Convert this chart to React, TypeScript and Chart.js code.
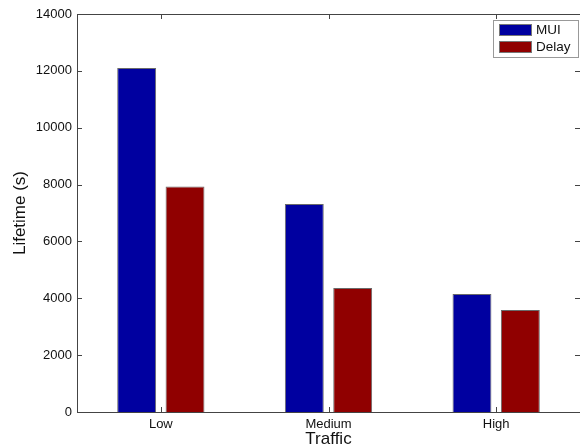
import React, { useEffect, useRef } from "react";
import { Chart, registerables } from "chart.js";

Chart.register(...registerables);

const categories = ["Low", "Medium", "High"];
const muiValues = [12100, 7320, 4150];
const delayValues = [7930, 4360, 3590];
const seriesNames = ["MUI", "Delay"];
const yTicks = [0, 2000, 4000, 6000, 8000, 10000, 12000, 14000];

const FONT = "'Liberation Sans', Arial, Helvetica, sans-serif";
const BLUE = "#0000a0";
const RED = "#900000";

const framePlugin = {
  id: "frame",
  afterDraw(chart: any) {
    const { ctx, chartArea } = chart;
    const { left, right, top, bottom } = chartArea;
    const xs = chart.scales.x;
    const ys = chart.scales.y;
    ctx.save();
    ctx.strokeStyle = "#444";
    ctx.lineWidth = 1;
    const L = Math.round(left) + 0.5;
    const T = Math.round(top) + 0.5;
    const B = Math.round(bottom) + 0.5;
    ctx.beginPath();
    ctx.moveTo(L, T);
    ctx.lineTo(chart.width + 2, T);
    ctx.moveTo(L, T);
    ctx.lineTo(L, B);
    ctx.lineTo(chart.width + 2, B);
    ctx.stroke();
    const tl = 5;
    ctx.beginPath();
    ys.ticks.forEach((_t: any, i: number) => {
      const y = Math.round(ys.getPixelForTick(i)) + 0.5;
      ctx.moveTo(left, y);
      ctx.lineTo(left + tl, y);
      ctx.moveTo(right, y);
      ctx.lineTo(right - tl, y);
    });
    xs.ticks.forEach((_t: any, i: number) => {
      const x = Math.round(xs.getPixelForTick(i)) + 0.5;
      ctx.moveTo(x, bottom);
      ctx.lineTo(x, bottom - tl);
      ctx.moveTo(x, top);
      ctx.lineTo(x, top + tl);
    });
    ctx.stroke();

    // legend
    const lx = 493.5, ly = 20.5, lw = 85, lh = 37;
    ctx.fillStyle = "#fff";
    ctx.fillRect(lx, ly, lw, lh);
    ctx.strokeStyle = "#999";
    ctx.strokeRect(lx, ly, lw, lh);
    const colors = [BLUE, RED];
    ctx.font = `13.5px ${FONT}`;
    ctx.textBaseline = "middle";
    ctx.textAlign = "left";
    seriesNames.forEach((name, i) => {
      const sy = 24 + i * 17;
      ctx.fillStyle = colors[i];
      ctx.fillRect(499, sy, 33, 12);
      ctx.strokeStyle = "#777";
      ctx.strokeRect(499.5, sy + 0.5, 32, 11);
      ctx.fillStyle = "#111";
      ctx.fillText(name, 536, sy + 6.5);
    });
    ctx.restore();
  },
};

export default function App() {
  const ref = useRef<HTMLCanvasElement | null>(null);
  useEffect(() => {
    document.body.style.margin = "0";
    if (!ref.current) return;
    const chart = new Chart(ref.current, {
      type: "bar",
      data: {
        labels: categories,
        datasets: [
          { label: seriesNames[0], data: muiValues, backgroundColor: BLUE, borderColor: "rgba(90,90,90,0.9)", borderWidth: 1 },
          { label: seriesNames[1], data: delayValues, backgroundColor: RED, borderColor: "rgba(90,90,90,0.9)", borderWidth: 1 },
        ],
      },
      options: {
        responsive: false,
        animation: false,
        layout: { padding: { top: 14, left: 0, right: 0, bottom: 0 } },
        datasets: { bar: { categoryPercentage: 0.577, barPercentage: 0.804 } },
        plugins: { legend: { display: false }, tooltip: { enabled: false } },
        scales: {
          x: {
            offset: true,
            grid: { display: false, drawTicks: false },
            border: { display: false },
            ticks: { color: "#111", font: { family: FONT, size: 13 }, padding: 5, maxRotation: 0 },
            title: { display: true, text: "Traffic", color: "#111", font: { family: FONT, size: 17 }, padding: { top: 0, bottom: -2 } },
            afterFit(scale: any) { scale.height = 36; },
          },
          y: {
            min: 0,
            max: 14000,
            afterBuildTicks(scale: any) { scale.ticks = yTicks.map((v) => ({ value: v })); },
            grid: { display: false, drawTicks: false },
            border: { display: false },
            ticks: { color: "#111", font: { family: FONT, size: 13 }, padding: 5, callback: (v: any) => String(v) },
            title: { display: true, text: "Lifetime (s)", color: "#111", font: { family: FONT, size: 17 }, padding: { top: 10, bottom: 0 } },
            afterFit(scale: any) { scale.width = 77; },
          },
        },
      },
      plugins: [framePlugin],
    });
    return () => chart.destroy();
  }, []);
  return <canvas ref={ref} width={580} height={448} style={{ display: "block", width: 580, height: 448 }} />;
}
